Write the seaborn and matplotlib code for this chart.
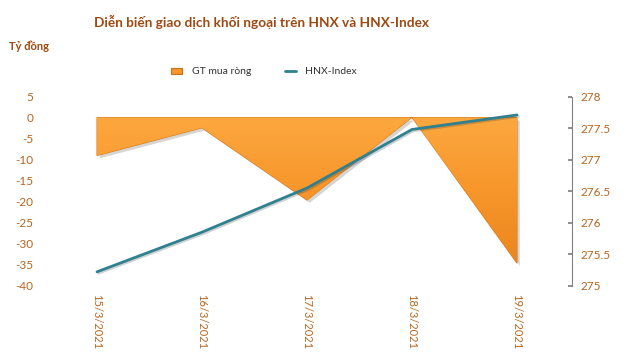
import numpy as np
import pandas as pd
import matplotlib
matplotlib.use("Agg")
import matplotlib.pyplot as plt
import seaborn as sns
from matplotlib.patches import Patch
from matplotlib.lines import Line2D
from matplotlib import patheffects as pe
from matplotlib.colors import LinearSegmentedColormap

dates = ["15/3/2021", "16/3/2021", "17/3/2021", "18/3/2021", "19/3/2021"]
net_buy = [-9.0, -2.4, -19.6, 0.1, -34.6]
hnx_index = [275.22, 275.85, 276.55, 277.48, 277.71]
left_ticks = [5, 0, -5, -10, -15, -20, -25, -30, -35, -40]
right_ticks = [275, 275.5, 276, 276.5, 277, 277.5, 278]

df = pd.DataFrame({"date": dates, "x": np.arange(len(dates)), "net": net_buy, "hnx": hnx_index})

sns.set_theme(style="white")
plt.rcParams["font.family"] = ["Lato", "DejaVu Sans"]

TXT = "#B8651F"
TITLE = "#9E4A12"
ORANGE = "#F7962B"
TEAL = "#2F8090"

fig = plt.figure(figsize=(6.3, 3.59), dpi=100)
ax = fig.add_axes([42 / 630, 1 - 285.7 / 359, 530 / 630, 189 / 359])

# area with gradient
poly = ax.fill_between(df["x"], df["net"], 0, color=ORANGE, edgecolor="#D9791A", linewidth=0.8, zorder=2,
                       path_effects=[pe.SimplePatchShadow(offset=(2, -2), shadow_rgbFace="#888888", alpha=0.35), pe.Normal()])
cmap = LinearSegmentedColormap.from_list("og", ["#FCA83F", "#F7962B", "#EA861F"])
grad = np.linspace(0, 1, 256).reshape(-1, 1)
im = ax.imshow(grad, cmap=cmap, aspect="auto", origin="upper",
               extent=[df["x"].min(), df["x"].max(), min(net_buy), max(0, max(net_buy))], zorder=3)
im.set_clip_path(poly.get_paths()[0], transform=ax.transData)

ax.set_xlim(-0.524, 4.524)
ax.set_ylim(-40, 5)
ax.set_yticks(left_ticks)
ax.set_yticklabels([str(v) for v in left_ticks], color=TXT, fontsize=8.5)
ax.set_xticks(df["x"])
ax.set_xticklabels(dates, rotation=-90, color=TXT, fontsize=8)
ax.tick_params(axis="x", length=0, pad=6)
ax.tick_params(axis="y", length=0, pad=6)
for s in ax.spines.values():
    s.set_visible(False)

ax2 = ax.twinx()
sns.lineplot(data=df, x="x", y="hnx", ax=ax2, color=TEAL, linewidth=2.0, zorder=5,
             path_effects=[pe.SimpleLineShadow(offset=(1, -1), alpha=0.2), pe.Normal()])
ax2.set_ylim(275, 278)
ax2.set_yticks(right_ticks)
ax2.set_yticklabels([f"{v:g}" for v in right_ticks], color=TXT, fontsize=8.5)
ax2.set_ylabel("")
ax2.set_xlabel("")
ax.set_xlabel("")
ax.set_ylabel("")
ax2.set_xlim(-0.524, 4.524)
for k, s in ax2.spines.items():
    s.set_visible(k == "right")
ax2.spines["right"].set_color("#808080")
ax2.spines["right"].set_linewidth(0.8)
ax2.tick_params(axis="y", direction="in", length=3, color="#808080", pad=6, right=True)

fig.text(262 / 630, 1 - 22 / 359, "Diễn biến giao dịch khối ngoại trên HNX và HNX-Index",
         ha="center", va="center", fontsize=9.8, fontweight="bold", color=TITLE)
fig.text(9 / 630, 1 - 46 / 359, "Tỷ đồng", ha="left", va="center", fontsize=8, fontweight="bold", color=TITLE)

handles = [Patch(facecolor=ORANGE, edgecolor="#C9701A", linewidth=0.8),
           Line2D([0], [0], color=TEAL, linewidth=2)]
fig.legend(handles, ["GT mua ròng", "HNX-Index"], loc="center", bbox_to_anchor=(264 / 630, 1 - 72 / 359),
           ncol=2, frameon=False, fontsize=7.5, columnspacing=3.2, handlelength=1.1, handleheight=0.6,
           handletextpad=0.9, labelcolor="#333333")

fig.savefig("out.png", dpi=100)
